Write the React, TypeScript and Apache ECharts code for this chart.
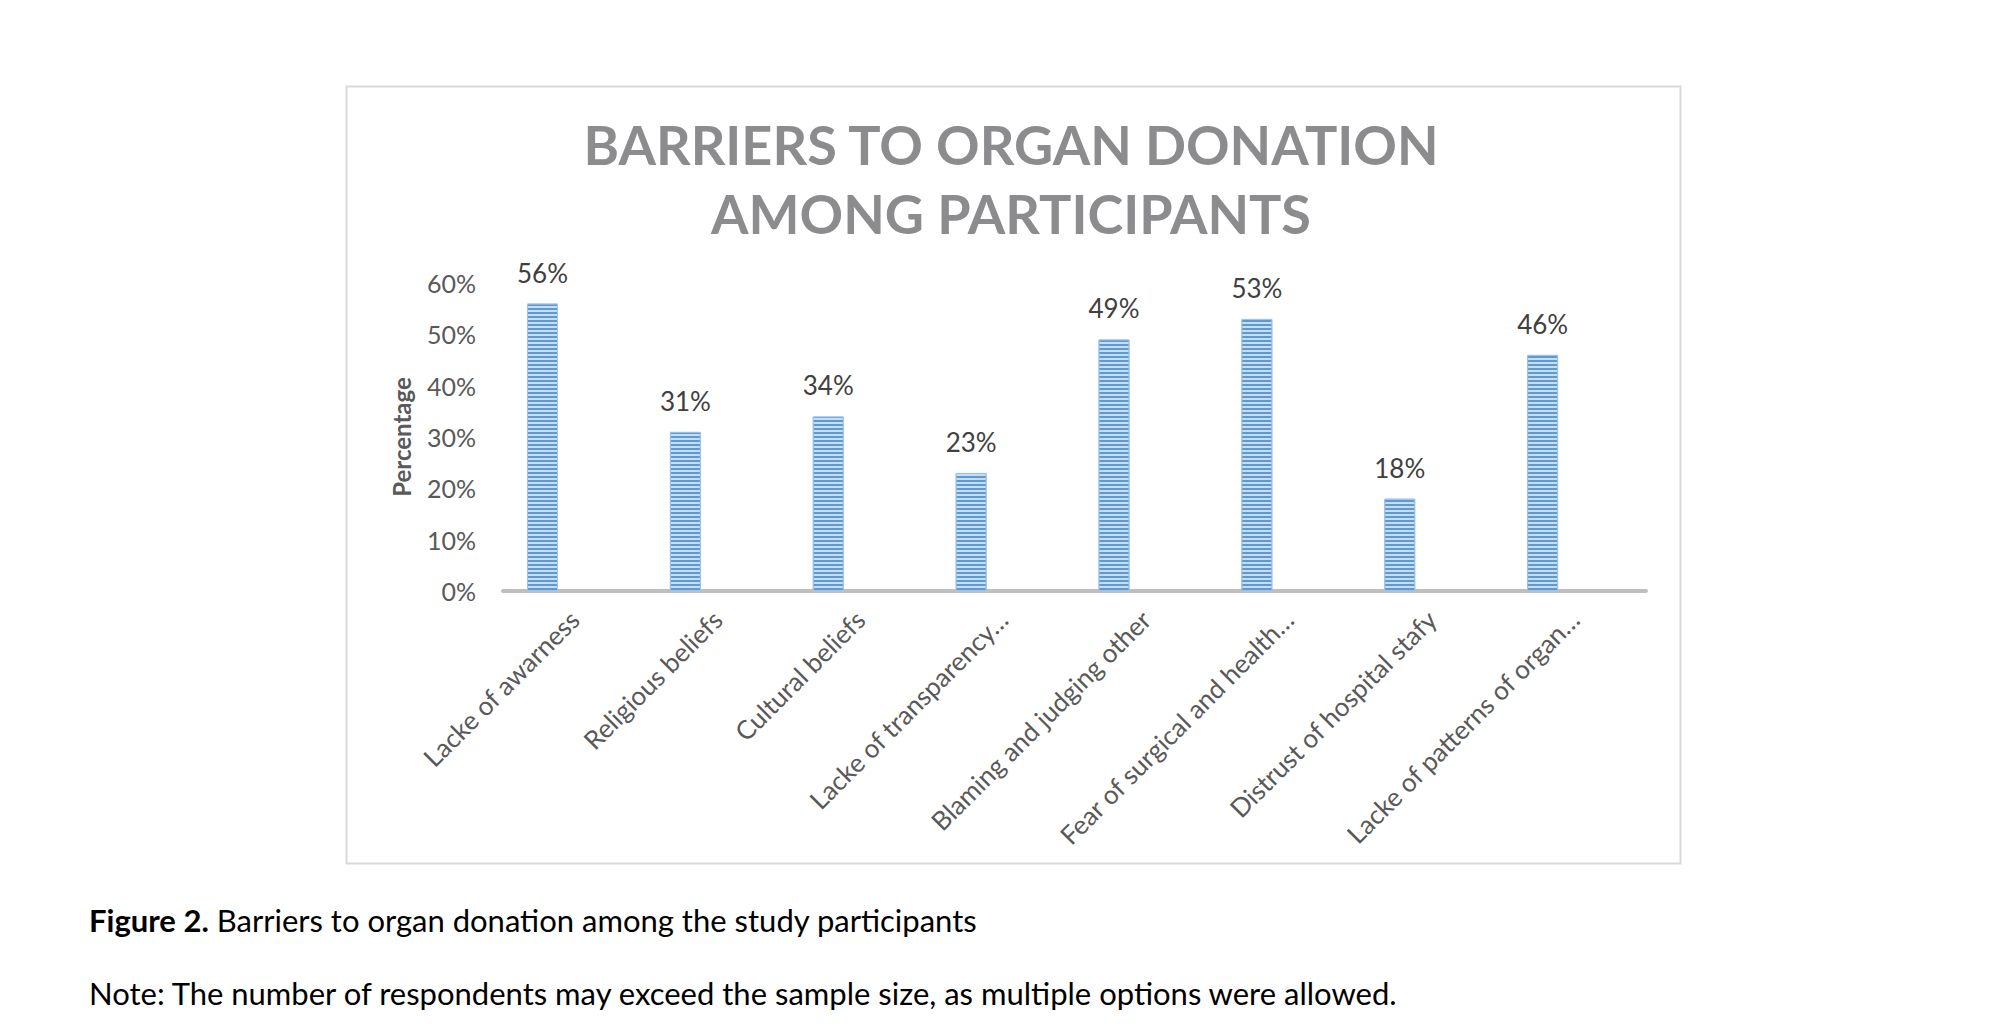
import React, { useEffect, useRef } from "react";
import * as echarts from "echarts";

const categories = [
  "Lacke of awarness",
  "Religious beliefs",
  "Cultural beliefs",
  "Lacke of transparency…",
  "Blaming and judging other",
  "Fear of surgical and health…",
  "Distrust of hospital stafy",
  "Lacke of patterns of organ…",
];
const percentages = [56, 31, 34, 23, 49, 53, 18, 46];
const emptySeries = [null, null, null, null, null, null, null, null];
const titleLines = ["BARRIERS TO ORGAN DONATION", "AMONG PARTICIPANTS"];
const captionBold = "Figure 2.";
const captionRest = " Barriers to organ donation among the study participants";
const noteText = "Note: The number of respondents may exceed the sample size, as multiple options were allowed.";

const FONT = "Lato, 'Open Sans', sans-serif";

export default function App() {
  const ref = useRef<HTMLDivElement>(null);
  useEffect(() => {
    if (!ref.current) return;
    const chart = echarts.init(ref.current, null, { renderer: "svg" });
    chart.setOption({
      animation: false,
      backgroundColor: "#ffffff",
      textStyle: { fontFamily: FONT },
      grid: { left: 503, right: 354, top: 283, bottom: 440 },
      xAxis: {
        type: "category",
        data: categories,
        axisLine: { lineStyle: { color: "#bfbfbf", width: 4 } },
        axisTick: { show: false },
        axisLabel: {
          rotate: 45,
          interval: 0,
          fontSize: 26,
          color: "#595959",
          fontFamily: FONT,
          margin: 24,
        },
      },
      yAxis: {
        type: "value",
        min: 0,
        max: 60,
        interval: 10,
        name: "Percentage",
        nameLocation: "middle",
        nameRotate: 90,
        nameGap: 90,
        nameTextStyle: { fontSize: 24, fontWeight: "bold", color: "#595959", fontFamily: FONT },
        axisLine: { show: false },
        axisTick: { show: false },
        splitLine: { show: false },
        axisLabel: { formatter: "{value}%", fontSize: 25, color: "#595959", margin: 27, fontFamily: FONT },
      },
      series: [
        {
          type: "bar",
          data: percentages,
          barWidth: 31,
          barGap: "106%",
          itemStyle: {
            color: "#c9ddf2",
            borderColor: "#9fc3e8",
            borderWidth: 1,
            decal: {
              symbol: "rect",
              symbolSize: 1,
              dashArrayX: [1, 0],
              dashArrayY: [2, 2],
              rotation: 0,
              color: "#5b9bd5",
            },
          },
          label: {
            show: true,
            position: "top",
            distance: 18,
            formatter: "{c}%",
            fontSize: 26,
            color: "#404040",
            fontFamily: FONT,
          },
        },
        {
          type: "bar",
          data: emptySeries,
          barWidth: 31,
          barGap: "106%",
          silent: true,
        },
      ],
      graphic: [
        {
          type: "rect",
          shape: { x: 346.5, y: 86.5, width: 1334, height: 777 },
          style: { fill: "none", stroke: "#d9d9d9", lineWidth: 2 },
          silent: true,
          z: -1,
        },
        {
          type: "text",
          x: 1011,
          y: 144,
          style: {
            text: titleLines[0],
            fill: "#8c8c8e",
            font: `bold 54px ${FONT}`,
            align: "center",
            verticalAlign: "middle",
          },
        },
        {
          type: "text",
          x: 1011,
          y: 213,
          style: {
            text: titleLines[1],
            fill: "#8c8c8e",
            font: `bold 54px ${FONT}`,
            align: "center",
            verticalAlign: "middle",
          },
        },
        {
          type: "text",
          x: 89,
          y: 920,
          style: {
            text: `{b|${captionBold}}{r|${captionRest}}`,
            rich: {
              b: { font: `bold 31px ${FONT}`, fill: "#000000" },
              r: { font: `31px ${FONT}`, fill: "#000000" },
            },
            verticalAlign: "middle",
          },
        },
        {
          type: "text",
          x: 89,
          y: 993,
          style: {
            text: noteText,
            font: `31px ${FONT}`,
            fill: "#000000",
            verticalAlign: "middle",
          },
        },
      ],
    });
    return () => chart.dispose();
  }, []);
  return (
    <div
      ref={ref}
      style={{ position: "fixed", left: 0, top: 0, width: 2000, height: 1031 }}
    />
  );
}
